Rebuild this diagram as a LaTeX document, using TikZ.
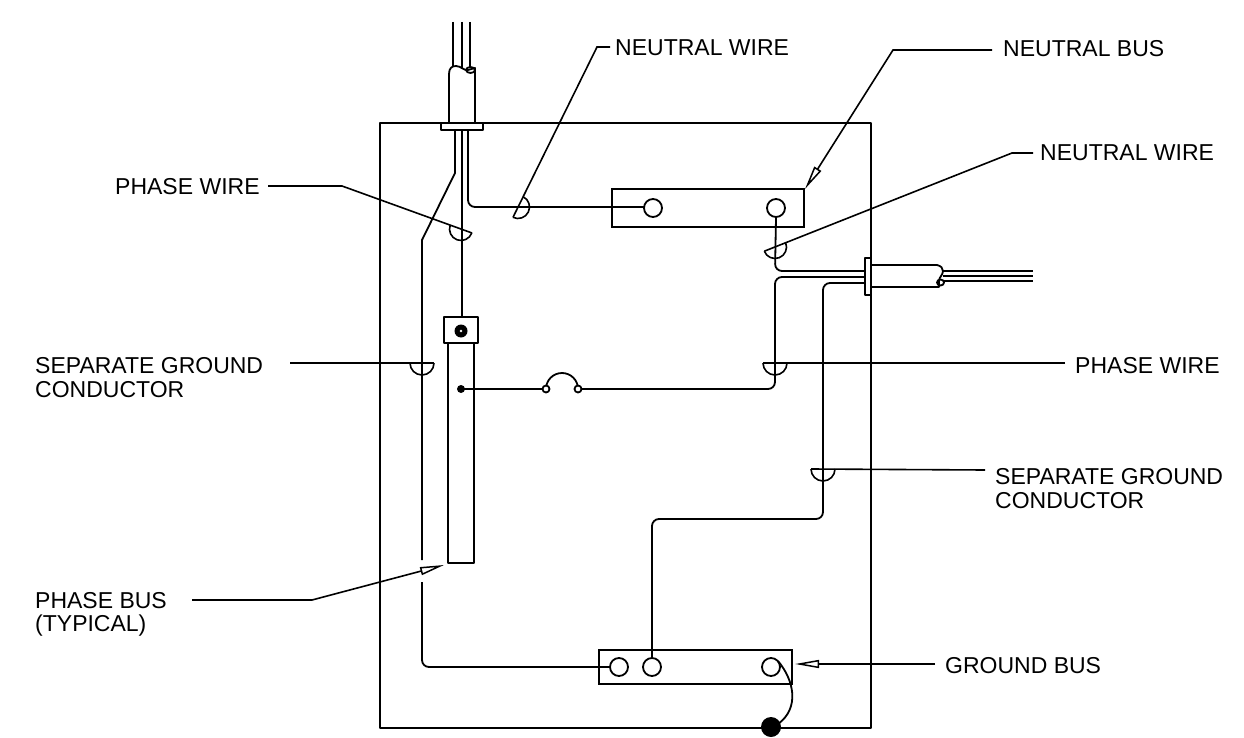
\documentclass[tikz,border=0pt]{standalone}
\usepackage{fontspec}
\setmainfont{Liberation Sans}
\usetikzlibrary{arrows.meta}
\tikzset{
  wire/.style={line width=1.8pt, line join=round},
  lead/.style={line width=1.6pt},
  lbl/.style={anchor=base west, inner sep=0pt, font=\fontsize{23}{28}\selectfont},
  openarrow/.style={-{Triangle[open,length=24pt,width=8pt,line width=1.5pt]}},
}
\newcommand{\semic}[4]{\draw[lead] ([shift={(#3:#4)}]#1,#2) arc[start angle=#3, delta angle=180, radius=#4];}
\begin{document}
\begin{tikzpicture}[x=1pt,y=1pt,yscale=-1]
\useasboundingbox (0,0) rectangle (1244,738);
% enclosure
\draw[wire] (380,123) rectangle (871,728);
% top-left cable
\draw[wire] (453,22) -- (453,68);
\draw[wire] (462,22) -- (462,68);
\draw[wire] (470,22) -- (470,67);
\draw[wire, fill=white] (449,122) -- (449,74) .. controls (449,68) and (452,66) .. (456,66) .. controls (461,66) and (464,71) .. (468,70) -- (475,68) -- (475,122);
\draw[wire] (470.5,70) ellipse [x radius=4.5, y radius=3];
\draw[wire, fill=white] (441,123) rectangle (483,130);
% wires from top cable
\draw[wire] (455,130) -- (455,173) -- (422,240) -- (422,560);
\draw[wire, rounded corners=7pt] (422,582) -- (422,667) -- (610,667);
\draw[wire] (462,130) -- (462,325);
\draw[wire, rounded corners=7pt] (468,130) -- (468,207) -- (644,207);
% neutral bus
\node[draw, line width=1.8pt, minimum width=192pt, minimum height=38pt, inner sep=0pt] (nbus) at (708,208) {};
\node[draw, circle, line width=1.8pt, minimum size=18pt, inner sep=0pt] (nb1) at (653,208) {};
\node[draw, circle, line width=1.8pt, minimum size=18pt, inner sep=0pt] (nb2) at (776,208) {};
\draw[wire, rounded corners=7pt] (nb2.south) -- (775,271) -- (865,271);
% right cable
\draw[wire] (943,271) -- (1033,271);
\draw[wire] (943,276) -- (1033,276);
\draw[wire] (943,281) -- (1033,281);
\draw[wire, fill=white] (871,265) -- (937,265) .. controls (941,266) and (943,268) .. (943,271) .. controls (943,275) and (939,277) .. (939,281) -- (939,287) -- (871,287);
\draw[wire] (940.5,282.5) ellipse [x radius=3.5, y radius=3];
\draw[wire, fill=white] (865,258) rectangle (871,295);
% phase wire right
\draw[wire, rounded corners=7pt] (865,277) -- (775,277) -- (775,389) -- (581.5,389);
% ground wire right
\draw[wire, rounded corners=7pt] (865,283) -- (823,283) -- (823,519) -- (652,519) -- (652,658);
% phase bus
\draw[wire] (448,343) rectangle (474,563);
\draw[wire, fill=white] (444,317) rectangle (478,343);
\fill (461,331) circle (6.5);
\fill[white] (461,331) circle (1.3);
\fill (461,389) circle (4);
\draw[wire] (461,389) -- (542.5,389);
% fuse
\draw[wire] (546,389) arc[start angle=180, end angle=360, radius=16];
\draw[wire, fill=white] (546,389) circle (3.5);
\draw[wire, fill=white] (578,389) circle (3.5);
% ground bus
\node[draw, line width=1.8pt, minimum width=193pt, minimum height=34pt, inner sep=0pt] (gbus) at (695.5,667) {};
\node[draw, circle, line width=1.8pt, minimum size=18pt, inner sep=0pt] (gb1) at (619,667) {};
\node[draw, circle, line width=1.8pt, minimum size=18pt, inner sep=0pt] (gb2) at (652,667) {};
\node[draw, circle, line width=1.8pt, minimum size=18pt, inner sep=0pt] (gb3) at (771,667) {};
\fill (771,727) circle (10);
\draw[wire] (778,661) .. controls (794,680) and (800,708) .. (778,724);
% labels and leaders
\node[lbl] at (615,56) {NEUTRAL WIRE};
\draw[lead] (610,47) -- (597,47) -- (513,217.3);
\semic{518}{207}{-63.7}{11.5}

\node[lbl] at (1003,57) {NEUTRAL BUS};
\draw[lead, openarrow] (992,50) -- (893,50) -- (805,189);

\node[lbl] at (115,195) {PHASE WIRE};
\draw[lead] (268,186) -- (342,186) -- (472,233);
\semic{461}{229}{19.9}{11.5}

\node[lbl] at (1040,161) {NEUTRAL WIRE};
\draw[lead] (1033,153) -- (1012,153) -- (764.3,251.2);
\semic{775}{247}{-21.6}{11.5}

\node[lbl] at (35,373) {SEPARATE GROUND};
\node[lbl] at (35,397) {CONDUCTOR};
\draw[lead] (290,363) -- (434,363);
\semic{422}{363}{0}{12}

\node[lbl] at (1075,373) {PHASE WIRE};
\draw[lead] (1065,363) -- (763,363);
\semic{775}{363}{0}{12}

\node[lbl] at (995,484) {SEPARATE GROUND};
\node[lbl] at (995,508) {CONDUCTOR};
\draw[lead] (985,470) -- (811,469);
\semic{823}{469}{0}{12}

\node[lbl] at (35,608) {PHASE BUS};
\node[lbl] at (35,631) {(TYPICAL)};
\draw[lead, openarrow] (192,600) -- (312,600) -- (444,565);

\node[lbl] at (945,673) {GROUND BUS};
\draw[lead, openarrow] (935,664) -- (795,664);
\end{tikzpicture}
\end{document}
